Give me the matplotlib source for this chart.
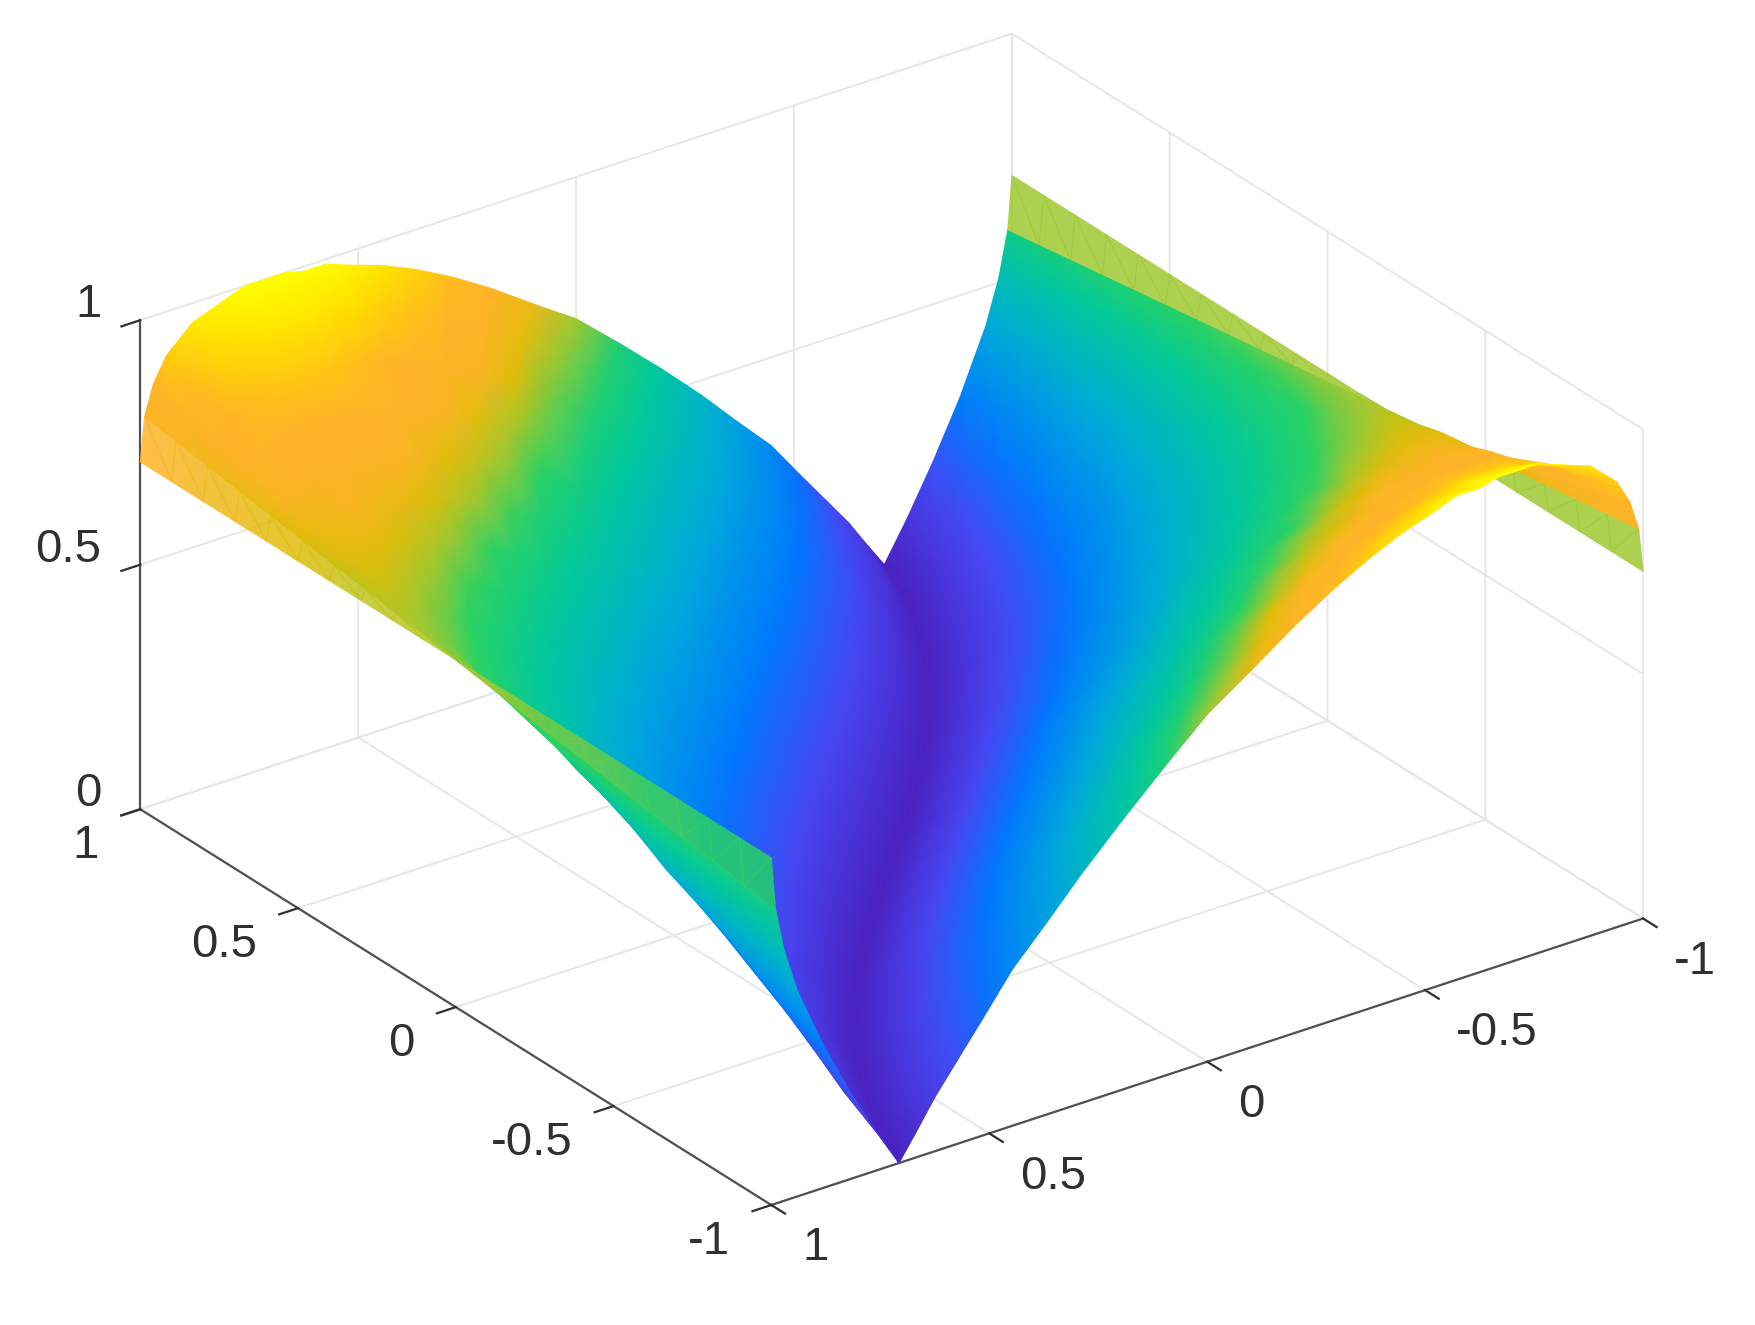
import matplotlib
matplotlib.use('Agg')
import matplotlib.pyplot as plt
import matplotlib.colors as colors
import matplotlib.transforms as transforms
from mpl_toolkits.mplot3d import proj3d
import numpy as np

plt.rcParams['font.family'] = ['Liberation Sans', 'DejaVu Sans']

# ---------------- values ----------------
x_vals = [-1.0, -0.9, -0.8, -0.7, -0.6, -0.5, -0.4, -0.3, -0.2, -0.1, 0.0,
          0.1, 0.2, 0.3, 0.4, 0.5, 0.6, 0.7, 0.8, 0.9, 1.0]
y_vals = [-1.0, -0.99, -0.97, -0.94, -0.88, -0.82, -0.76, -0.707, -0.669, -0.625, -0.574, -0.514,
          -0.447, -0.371, -0.287, -0.196, -0.1, 0.0, 0.1, 0.196, 0.287, 0.371,
          0.447, 0.514, 0.574, 0.625, 0.669, 0.707, 0.76, 0.82, 0.88, 0.94, 0.97, 0.99, 1.0]

# one row per y, one column per x
z_rows = [
    [.71, .71, .71, .71, .71, .71, .71, .71, .71, .71, .71, .71, .71, .71, .71, .71, .71, .71, .71, .71, .71],
    [.80, .79, .78, .77, .76, .75, .74, .73, .72, .71, .70, .69, .68, .67, .66, .65, .64, .63, .62, .61, .60],
    [.86, .84, .82, .81, .79, .77, .76, .74, .72, .70, .69, .67, .65, .63, .62, .60, .58, .57, .55, .53, .51],
    [.91, .88, .86, .83, .81, .78, .76, .74, .71, .69, .66, .64, .62, .59, .57, .54, .52, .50, .47, .45, .42],
    [.96, .92, .89, .86, .82, .79, .76, .72, .69, .66, .62, .59, .56, .52, .49, .45, .42, .39, .35, .32, .29],
    [.98, .94, .90, .86, .82, .78, .74, .70, .66, .62, .58, .54, .50, .46, .42, .38, .34, .30, .26, .22, .18],
    [1.0, .95, .90, .86, .81, .77, .72, .67, .63, .58, .54, .49, .45, .40, .35, .31, .26, .22, .17, .12, .08],
    [1.0, .95, .90, .85, .80, .75, .70, .65, .60, .55, .50, .45, .40, .35, .30, .25, .20, .15, .10, .05, 0],
    [1.0, .95, .89, .84, .79, .74, .68, .63, .58, .53, .47, .42, .37, .32, .26, .21, .16, .11, .05, 0, .05],
    [.99, .94, .88, .83, .77, .72, .66, .61, .55, .50, .44, .39, .33, .28, .22, .17, .11, .06, 0, .06, .11],
    [.99, .93, .87, .81, .75, .70, .64, .58, .52, .46, .41, .35, .29, .23, .17, .12, .06, 0, .06, .12, .17],
    [.97, .91, .85, .79, .73, .67, .61, .55, .49, .42, .36, .30, .24, .18, .12, .06, 0, .06, .12, .18, .24],
    [.95, .89, .82, .76, .70, .63, .57, .51, .44, .38, .32, .25, .19, .13, .06, 0, .06, .13, .19, .25, .32],
    [.92, .85, .79, .72, .66, .59, .53, .46, .39, .33, .26, .20, .13, .07, 0, .07, .13, .20, .26, .33, .39],
    [.88, .81, .75, .68, .61, .54, .47, .41, .34, .27, .20, .14, .07, 0, .07, .14, .20, .27, .34, .41, .47],
    [.83, .76, .69, .62, .55, .49, .42, .35, .28, .21, .14, .07, 0, .07, .14, .21, .28, .35, .42, .49, .55],
    [.77, .70, .63, .56, .49, .42, .35, .28, .21, .14, .07, 0, .07, .14, .21, .28, .35, .42, .49, .56, .63],
    [.71, .64, .57, .49, .42, .35, .28, .21, .14, .07, 0, .07, .14, .21, .28, .35, .42, .49, .57, .64, .71],
    [.63, .56, .49, .42, .35, .28, .21, .14, .07, 0, .07, .14, .21, .28, .35, .42, .49, .56, .63, .70, .77],
    [.55, .49, .42, .35, .28, .21, .14, .07, 0, .07, .14, .21, .28, .35, .42, .49, .55, .62, .69, .76, .83],
    [.47, .41, .34, .27, .20, .14, .07, 0, .07, .14, .20, .27, .34, .41, .47, .54, .61, .68, .75, .81, .88],
    [.39, .33, .26, .20, .13, .07, 0, .07, .13, .20, .26, .33, .39, .46, .53, .59, .66, .72, .79, .85, .92],
    [.32, .25, .19, .13, .06, 0, .06, .13, .19, .25, .32, .38, .44, .51, .57, .63, .70, .76, .82, .89, .95],
    [.24, .18, .12, .06, 0, .06, .12, .18, .24, .30, .36, .42, .49, .55, .61, .67, .73, .79, .85, .91, .97],
    [.17, .12, .06, 0, .06, .12, .17, .23, .29, .35, .41, .46, .52, .58, .64, .70, .75, .81, .87, .93, .99],
    [.11, .06, 0, .06, .11, .17, .22, .28, .33, .39, .44, .50, .55, .61, .66, .72, .77, .83, .88, .94, .99],
    [.05, 0, .05, .11, .16, .21, .26, .32, .37, .42, .47, .53, .58, .63, .68, .74, .79, .84, .89, .95, 1.0],
    [0, .05, .10, .15, .20, .25, .30, .35, .40, .45, .50, .55, .60, .65, .70, .75, .80, .85, .90, .95, 1.0],
    [.08, .12, .17, .22, .26, .31, .35, .40, .45, .49, .54, .58, .63, .67, .72, .77, .81, .86, .90, .95, 1.0],
    [.18, .22, .26, .30, .34, .38, .42, .46, .50, .54, .58, .62, .66, .70, .74, .78, .82, .86, .90, .94, .98],
    [.29, .32, .35, .39, .42, .45, .49, .52, .56, .59, .62, .66, .69, .72, .76, .79, .82, .86, .89, .92, .96],
    [.42, .45, .47, .50, .52, .54, .57, .59, .62, .64, .66, .69, .71, .74, .76, .78, .81, .83, .86, .88, .91],
    [.51, .53, .55, .57, .58, .60, .62, .63, .65, .67, .69, .70, .72, .74, .76, .77, .79, .81, .82, .84, .86],
    [.60, .61, .62, .63, .64, .65, .66, .67, .68, .69, .70, .71, .72, .73, .74, .75, .76, .77, .78, .79, .80],
    [.71, .71, .71, .71, .71, .71, .71, .71, .71, .71, .71, .71, .71, .71, .71, .71, .71, .71, .71, .71, .71],
]

# colour level of the near strip (y = 1 side), per x
tira_cerca = [.65, .66, .66, .67, .67, .68, .69, .69, .70, .71, .71,
              .72, .73, .73, .74, .75, .76, .77, .78, .79, .80]

tick_vals = [-1, -0.5, 0, 0.5, 1]
tick_labels = ['-1', '-0.5', '0', '0.5', '1']
z_tick_vals = [0, 0.5, 1]
z_tick_labels = ['0', '0.5', '1']

# colours picked from the surface, low to high
cmap_pos = [0.0, 0.15, 0.27, 0.42, 0.56, 0.66, 0.71, 0.75, 0.80, 0.87, 0.93, 1.0]
cmap_cols = ['#4a22c0', '#4848f5', '#0078ff', '#00a8dc', '#00c8a0', '#28d264',
             '#a0c832', '#dcbe08', '#ffb428', '#ffb428', '#ffd800', '#ffff00']
parula_like = colors.LinearSegmentedColormap.from_list('surf', list(zip(cmap_pos, cmap_cols)))

# ---------------- figure: box, grid and ticks ----------------
fig = plt.figure(figsize=(17.55, 13.25), dpi=100)
side = 1750
ax = fig.add_axes([(868 - side / 2) / 1755, (682 - side / 2) / 1325, side / 1755, side / 1325],
                  projection='3d')
ax.set_proj_type('ortho')
ax.view_init(elev=27, azim=144.1)
ax.set_box_aspect((1, 1, 0.51), zoom=0.8975)

ax.set_xlim(-1, 1, view_margin=0)
ax.set_ylim(-1, 1, view_margin=0)
ax.set_zlim(0, 1, view_margin=0)

ax.set_xticks(tick_vals)
ax.set_xticklabels(tick_labels, ha='right', va='center')
ax.set_yticks(tick_vals)
ax.set_yticklabels(tick_labels, ha='left', va='center')
ax.set_zticks(z_tick_vals)
ax.set_zticklabels(z_tick_labels, ha='right', va='baseline')
ax.zaxis.set_ticks_position('upper')

for axis, pad in [(ax.xaxis, 23), (ax.yaxis, 24), (ax.zaxis, 9)]:
    axis.set_pane_color((1, 1, 1, 0))
    axis.pane.set_edgecolor('#e0e0e0')
    axis.line.set_color('#505050')
    axis.line.set_linewidth(1.6)
    axis._axinfo['grid'].update(color='#e6e6e6', linewidth=1.4)
    axis._axinfo['tick'].update(inward_factor=0.27, outward_factor=0.0, linewidth={True: 1.6, False: 1.6})
    axis.set_tick_params(labelsize=34, colors='#303030', pad=pad)

# floor labels sit a little lower than the pad alone puts them
bajar = transforms.ScaledTranslation(0, -0.12, fig.dpi_scale_trans)
for axis in [ax.xaxis, ax.yaxis]:
    for etiqueta in axis.get_ticklabels():
        etiqueta.set_transform(etiqueta.get_transform() + bajar)

fig.canvas.draw()

# ---------------- surface: grid points through the 3d projection, shaded per vertex ----------------
nx = len(x_vals)
ny = len(y_vals)
X, Y = np.meshgrid(x_vals, y_vals)
Z = np.array(z_rows)


def celdas(filas):
    # cells split along the valley direction so the crease follows the table
    tri = []
    for j in filas:
        for i in range(nx - 1):
            k = j * nx + i
            tri.append([k, k + 1, k + nx])
            tri.append([k + 1, k + nx + 1, k + nx])
    return np.array(tri)


xp, yp, zp = proj3d.proj_transform(X.ravel(), Y.ravel(), Z.ravel(), ax.get_proj())
pix = ax.transData.transform(np.column_stack([xp, yp]))

ax2 = fig.add_axes([0, 0, 1, 1])
ax2.patch.set_alpha(0)
ax2.set_xlim(0, 1755)
ax2.set_ylim(0, 1325)
ax2.axis('off')

# the two outer strips keep one colour across and show the paper through the sparse mesh
tonos_lejos = Z.copy()
tonos_lejos[1] = Z[0]
tonos_cerca = Z.copy()
tonos_cerca[-1] = tira_cerca
tonos_cerca[-2] = tira_cerca

ax2.tripcolor(pix[:, 0], pix[:, 1], celdas([0]), tonos_lejos.ravel(), shading='gouraud',
              cmap=parula_like, vmin=0, vmax=1, alpha=0.85)

# back to front
centro = celdas(range(1, ny - 2))
orden = np.argsort(-zp[centro].mean(axis=1))
ax2.tripcolor(pix[:, 0], pix[:, 1], centro[orden], Z.ravel(), shading='gouraud',
              cmap=parula_like, vmin=0, vmax=1)

ax2.tripcolor(pix[:, 0], pix[:, 1], celdas([ny - 2]), tonos_cerca.ravel(), shading='gouraud',
              cmap=parula_like, vmin=0, vmax=1, alpha=0.85)

fig.savefig('out.png', dpi=100)
